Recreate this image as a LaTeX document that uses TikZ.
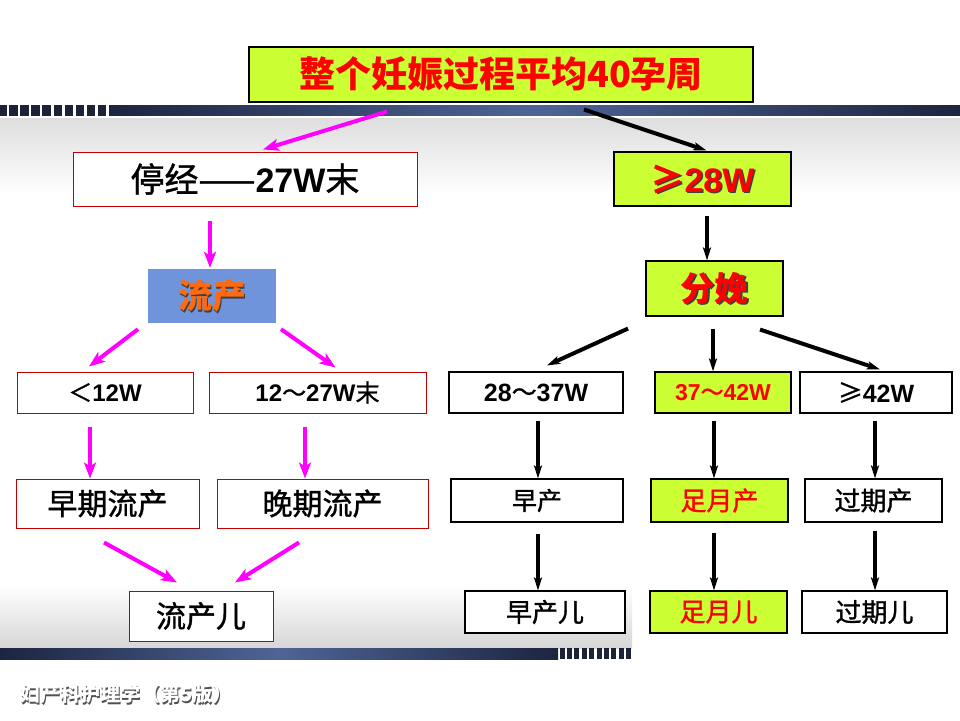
\documentclass[tikz,border=0pt]{standalone}
\usepackage{fontspec}
\usetikzlibrary{arrows.meta,shadings,calc}
\newfontfamily\cjk{Noto Sans CJK SC}
\newfontfamily\cjkm{Noto Sans CJK SC}[FakeBold=1.2]
\newfontfamily\arb{Liberation Sans}
\newcommand\ab[1]{{\arb\bfseries #1}}
\newcommand\fs[1]{\fontsize{#1}{#1}\selectfont}
\definecolor{ygreen}{HTML}{CCFF33}
\definecolor{boxblue}{HTML}{7094DC}
\definecolor{oran}{HTML}{FF6A10}
\definecolor{rred}{HTML}{FF0000}
\definecolor{bred}{HTML}{C00000}
\definecolor{mag}{HTML}{FF00FF}
\definecolor{navyD}{HTML}{1C2540}
\definecolor{navyM}{HTML}{4F6496}
\definecolor{sq}{HTML}{1C2238}
\tikzset{
  rbx/.style={draw=bred, line width=1pt, fill=white, inner sep=0pt, font=\cjkm},
  kbx/.style={draw=black, line width=1.1pt, fill=white, inner sep=0pt, font=\cjkm},
  gbx/.style={draw=black, line width=1.1pt, fill=ygreen, inner sep=0pt, font=\cjkm},
  txt/.style={inner sep=0pt, font=\cjk},
  marr/.style={draw=mag, line width=4pt, -{Stealth[length=16pt,width=12pt,inset=4pt]}},
  karr/.style={draw=black, line width=4pt, -{Stealth[length=13pt,width=8pt,inset=3pt]}},
}
\begin{document}
\begin{tikzpicture}[x=1pt,y=-1pt]
\useasboundingbox (0,0) rectangle (960,720);
% background
\fill[white] (0,0) rectangle (960,720);
\shade[top color=black!13, bottom color=white] (0,118) rectangle (960,195);
\shade[top color=white, bottom color=black!16] (0,585) rectangle (632,648);
% top band
\shade[left color=navyD, right color=navyD, middle color=navyM] (109,105) rectangle (960,116);
\foreach \i in {0,...,9} { \fill[sq] ({-2+\i*11.1},105) rectangle ({6.5+\i*11.1},116); }
\fill[white] (0,116) rectangle (960,117.5);
% bottom band
\shade[left color=navyD, right color=navyD, middle color=navyM] (0,648) rectangle (558,659);
\foreach \i in {0,...,9} { \fill[sq] ({559.5+\i*7.4},648) rectangle ({564.5+\i*7.4},659); }

% nodes
\node[gbx, minimum width=504pt, minimum height=55pt, text=rred, font=\cjk\bfseries\fs{36}] (title) at (501,74.5) {整个妊娠过程平均40孕周};
\node[rbx, minimum width=344pt, minimum height=54pt, font=\cjkm\fs{34}] (ting) at (245,179) {停经——\ab{27W}末};
\node[gbx, minimum width=177pt, minimum height=54pt] (ge28) at (702.5,179) {};
\node[txt, text=black!75, font=\cjk\bfseries\fs{34}] (ge28s) at (704,180.5) {≥\ab{28W}};
\node[txt, text=rred, font=\cjk\bfseries\fs{34}] (ge28t) at (702.5,179) {≥\ab{28W}};
\node[draw=none, fill=boxblue, minimum width=128pt, minimum height=54pt, inner sep=0pt] (liu) at (212,296) {};
\node[txt, text=black!75, font=\cjk\bfseries\fs{34}] (lius) at (213.5,297.5) {流产};
\node[txt, text=oran, font=\cjk\bfseries\fs{34}] (liut) at (212,296) {流产};
\node[gbx, minimum width=137pt, minimum height=55pt] (fen) at (714.5,288.5) {};
\node[txt, text=black!75, font=\cjk\bfseries\fs{34}] (fens) at (716,290) {分娩};
\node[txt, text=rred, font=\cjk\bfseries\fs{34}] (fent) at (714.5,288.5) {分娩};

\node[rbx, minimum width=176pt, minimum height=41pt, font=\cjkm\fs{24}] (lt12) at (105,392.5) {＜\ab{12W}};
\node[rbx, minimum width=217pt, minimum height=41pt, font=\cjkm\fs{24}] (m1227) at (317.5,392.5) {\ab{12}～\ab{27W}末};
\node[kbx, minimum width=174pt, minimum height=41pt, font=\cjkm\fs{25}] (w2837) at (536,392.5) {\ab{28}～\ab{37W}};
\node[gbx, minimum width=136pt, minimum height=41pt, text=rred, font=\cjkm\fs{23}] (w3742) at (723,392.5) {\ab{37}～\ab{42W}};
\node[kbx, minimum width=152pt, minimum height=41pt, font=\cjkm\fs{25}] (ge42) at (876,392.5) {≥\ab{42W}};

\node[rbx, minimum width=183pt, minimum height=49pt, font=\cjkm\fs{30}] (zaoqi) at (107.5,503.5) {早期流产};
\node[rbx, minimum width=211pt, minimum height=49pt, font=\cjkm\fs{30}] (wanqi) at (322.5,503.5) {晚期流产};
\node[rbx, minimum width=144pt, minimum height=50pt, font=\cjkm\fs{30}] (liuer) at (201,616) {流产儿};

\node[kbx, minimum width=172pt, minimum height=43pt, font=\cjkm\fs{25}] (zaochan) at (537,500.5) {早产};
\node[gbx, minimum width=137pt, minimum height=43pt, text=rred, font=\cjkm\fs{26}] (zuyue) at (719.5,500.5) {足月产};
\node[kbx, minimum width=137pt, minimum height=43pt, font=\cjkm\fs{26}] (guoqi) at (873.5,500.5) {过期产};
\node[kbx, minimum width=160pt, minimum height=42pt, font=\cjkm\fs{26}] (zaoer) at (545,612) {早产儿};
\node[gbx, minimum width=137pt, minimum height=42pt, text=rred, font=\cjkm\fs{26}] (zuer) at (718.5,612) {足月儿};
\node[kbx, minimum width=145pt, minimum height=42pt, font=\cjkm\fs{26}] (guoer) at (874.5,612) {过期儿};

% magenta arrows
\draw[marr] ([xshift=-114pt,yshift=-9pt]title.south) -- ([xshift=18pt,yshift=2pt]ting.north);
\draw[marr] ([xshift=-35pt,yshift=-14pt]ting.south) -- ([xshift=-2pt,yshift=1pt]liu.north);
\draw[marr] ([xshift=-74pt,yshift=-6pt]liu.south) -- ([xshift=-16pt,yshift=5pt]lt12.north);
\draw[marr] ([xshift=69pt,yshift=-6pt]liu.south) -- ([xshift=18pt,yshift=4pt]m1227.north);
\draw[marr] ([xshift=-15pt,yshift=-13pt]lt12.south) -- ([xshift=-17.5pt,yshift=0pt]zaoqi.north);
\draw[marr] ([xshift=-12.5pt,yshift=-13pt]m1227.south) -- ([xshift=-17.5pt,yshift=0pt]wanqi.north);
\draw[marr] ([xshift=-3.5pt,yshift=-14pt]zaoqi.south) -- ([xshift=-24pt,yshift=8pt]liuer.north);
\draw[marr] ([xshift=-23.5pt,yshift=-14pt]wanqi.south) -- ([xshift=34pt,yshift=8pt]liuer.north);
% black arrows
\draw[karr] ([xshift=83pt,yshift=-7pt]title.south) -- ([xshift=4pt,yshift=1pt]ge28.north);
\draw[karr] ([xshift=4.5pt,yshift=-9pt]ge28.south) -- ([xshift=-7.5pt,yshift=0pt]fen.north);
\draw[karr] ([xshift=-86.5pt,yshift=-12pt]fen.south) -- ([xshift=11pt,yshift=6pt]w2837.north);
\draw[karr] ([xshift=-1.5pt,yshift=-12pt]fen.south) -- ([xshift=-10pt,yshift=0pt]w3742.north);
\draw[karr] ([xshift=45.5pt,yshift=-13pt]fen.south) -- ([xshift=4pt,yshift=2pt]ge42.north);
\draw[karr] ([xshift=2pt,yshift=-7pt]w2837.south) -- ([xshift=1pt,yshift=0pt]zaochan.north);
\draw[karr] ([xshift=1pt,yshift=-11pt]zaochan.south) -- ([xshift=-7pt,yshift=0pt]zaoer.north);
\draw[karr] ([xshift=-9pt,yshift=-7pt]w3742.south) -- ([xshift=-5.5pt,yshift=0pt]zuyue.north);
\draw[karr] ([xshift=-5.5pt,yshift=-10pt]zuyue.south) -- ([xshift=-4.5pt,yshift=0pt]zuer.north);
\draw[karr] ([xshift=-1pt,yshift=-7pt]ge42.south) -- ([xshift=1.5pt,yshift=0pt]guoqi.north);
\draw[karr] ([xshift=1.5pt,yshift=-8pt]guoqi.south) -- ([xshift=0.5pt,yshift=0pt]guoer.north);

% footer
\node[txt, anchor=west, text=black!80, opacity=0.85, font=\cjk\bfseries\fs{20}] (footers) at (21.5,695.5) {妇产科护理学（第5版）};
\node[txt, anchor=west, text=white, font=\cjk\bfseries\fs{20}] (footer) at (20,694) {妇产科护理学（第5版）};
\end{tikzpicture}
\end{document}
